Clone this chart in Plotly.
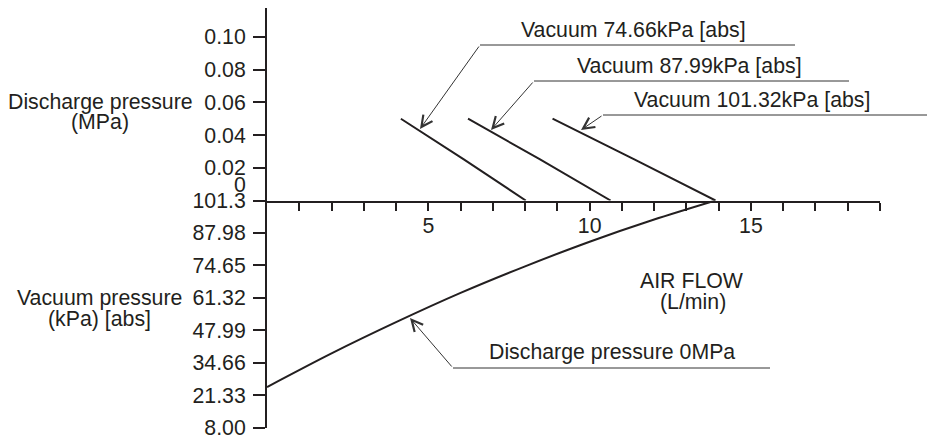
import plotly.graph_objects as go

# ---------------- data ----------------
flow_vac_7466 = [4.15, 6.1, 8.02]
dis_vac_7466 = [0.050, 0.0252, 0.0]
flow_vac_8799 = [6.23, 8.45, 10.65]
dis_vac_8799 = [0.050, 0.0253, 0.0]
flow_vac_10132 = [8.85, 11.4, 13.9]
dis_vac_10132 = [0.050, 0.0250, 0.0]
flow_dis0 = [0, 2, 4, 6, 8, 10, 12, 13.9]
vac_dis0 = [24.8, 38.6, 51.4, 63.4, 74.3, 84.4, 93.5, 101.3]

x_ticks = list(range(1, 20))
x_labels = ["5" if v == 5 else "10" if v == 10 else "15" if v == 15 else "" for v in x_ticks]
dis_ticks = [0.02, 0.04, 0.06, 0.08, 0.10]
dis_labels = ["0.02", "0.04", "0.06", "0.08", "0.10"]
vac_ticks = [101.3, 87.98, 74.65, 61.32, 47.99, 34.66, 21.33, 8.00]
vac_labels = ["101.3", "87.98", "74.65", "61.32", "47.99", "34.66", "21.33", "8.00"]

# ---------------- layout geometry ----------------
W, H = 930, 437
L, R, T, B = 267, 50, 8, 9
PW, PH = W - L - R, H - T - B
INK = "#231f20"
LEAD = "#333333"
FONT = dict(family="Liberation Sans, Arial, Helvetica, sans-serif", size=21.3, color=INK)


def px(xp):
    return (xp - L) / PW


def py(yp):
    return (H - B - yp) / PH


split = py(200.5)

fig = go.Figure()
line_style = dict(color=INK, width=2)
for fx, fy in [(flow_vac_7466, dis_vac_7466), (flow_vac_8799, dis_vac_8799),
               (flow_vac_10132, dis_vac_10132)]:
    fig.add_trace(go.Scatter(x=fx, y=fy, mode="lines", line=dict(shape="spline", smoothing=0.6, **line_style),
                             xaxis="x", yaxis="y", showlegend=False, hoverinfo="skip"))
fig.add_trace(go.Scatter(x=flow_dis0, y=vac_dis0, mode="lines",
                         line=dict(shape="spline", smoothing=0.8, **line_style),
                         xaxis="x", yaxis="y2", showlegend=False, hoverinfo="skip"))

axis_common = dict(showline=True, linewidth=2, linecolor=INK, ticks="outside", tickwidth=2,
                   tickcolor=INK, showgrid=False, zeroline=False, tickfont=FONT, fixedrange=True,
                   automargin=False, ticklabeloverflow="allow")

fig.update_layout(
    width=W, height=H, autosize=False,
    margin=dict(l=L, r=R, t=T, b=B, pad=0),
    paper_bgcolor="white", plot_bgcolor="white",
    font=FONT,
    xaxis=dict(domain=[0, 1], range=[0, 19], anchor="y", tickmode="array", tickvals=x_ticks,
               ticktext=x_labels, ticklen=8, ticklabelstandoff=-3, **axis_common),
    yaxis=dict(domain=[split, 1], range=[0, 0.1177], anchor="x", tickmode="array",
               tickvals=dis_ticks, ticktext=dis_labels, ticklen=12, ticklabelstandoff=3, **axis_common),
    yaxis2=dict(domain=[0, split], range=[7.999, 101.301], anchor="x", tickmode="array",
                tickvals=vac_ticks, ticktext=vac_labels, ticklen=12, ticklabelstandoff=3, **axis_common),
)

annotations = []


def text(t, xc, yc, anchor="center"):
    annotations.append(dict(text=t, x=px(xc), y=py(yc), xref="paper", yref="paper",
                            xanchor=anchor, yanchor="middle", showarrow=False, font=FONT))


text("0", 248, 185, "right")
text("Discharge pressure", 100, 102)
text("(MPa)", 100, 122)
text("Vacuum pressure", 99, 298)
text("(kPa) [abs]", 99, 319)
text("AIR FLOW", 692, 281)
text("(L/min)", 693, 302)

# callouts: (label, label centre x, label centre y, tip x, tip y, elbow x, elbow y, line end x)
callouts = [
    ("Vacuum 74.66kPa [abs]", 633, 30, 420, 129, 480, 45, 795),
    ("Vacuum 87.99kPa [abs]", 689, 66, 491, 130, 534, 81, 849),
    ("Vacuum 101.32kPa [abs]", 752, 100, 581, 130, 603, 115, 927),
    ("Discharge pressure 0MPa", 612, 352, 410, 318, 453, 368, 770),
]
shapes = []
for lab, tx, ty, ax_, ay_, ex, ey, lx in callouts:
    text(lab, tx, ty)
    shapes.append(dict(type="line", xref="paper", yref="paper", x0=px(ex), y0=py(ey), x1=px(lx), y1=py(ey),
                       line=dict(color=LEAD, width=1)))
    annotations.append(dict(text="", x=px(ax_), y=py(ay_), xref="paper", yref="paper",
                            ax=ex - ax_, ay=ey - ay_, axref="pixel", ayref="pixel",
                            showarrow=True, arrowhead=5, arrowsize=2.2, arrowwidth=1,
                            arrowcolor=LEAD, standoff=0, startstandoff=0))

fig.update_layout(annotations=annotations, shapes=shapes)
fig.write_html("out.html", config={"responsive": False, "displayModeBar": False},
               post_script="document.documentElement.style.margin='0';"
                           "document.body.style.margin='0';document.body.style.overflow='hidden';")
